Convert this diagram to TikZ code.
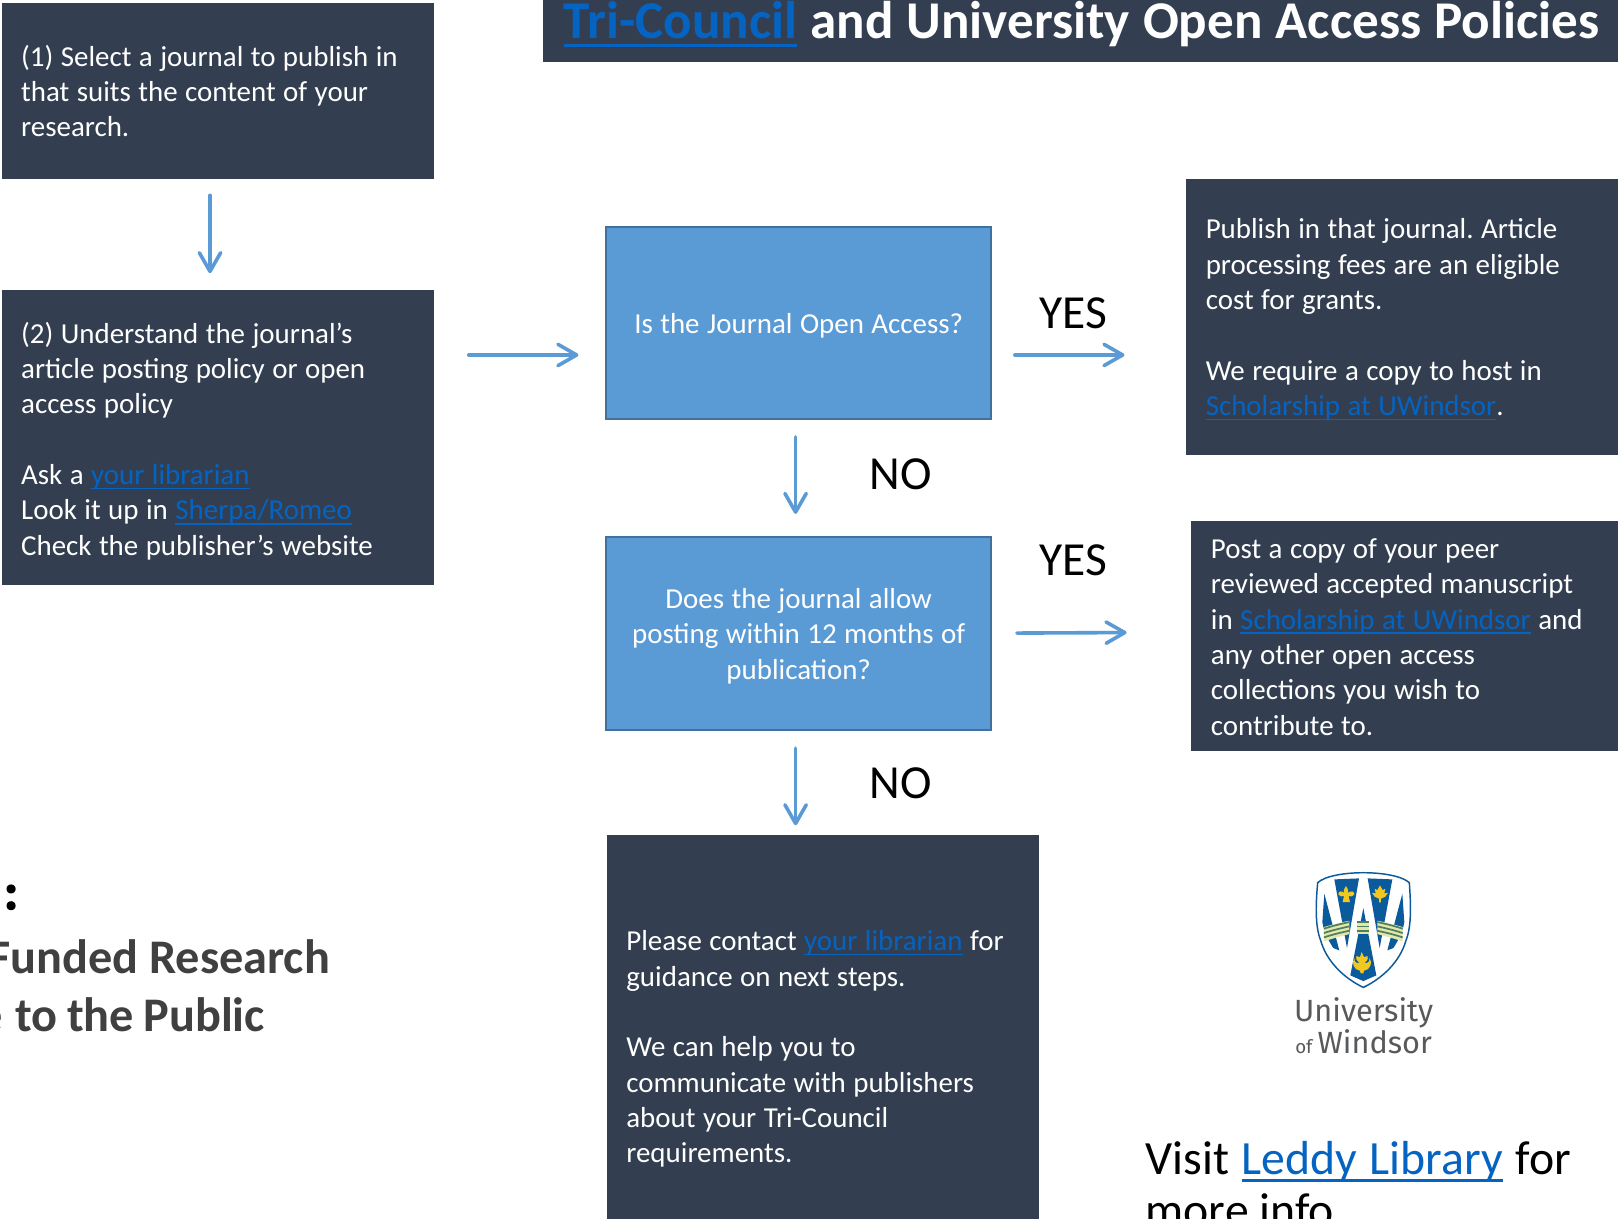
\documentclass[tikz,border=0pt]{standalone}
\usepackage{fontspec}
\setmainfont{Carlito}
\newfontfamily\logofont{Fira Sans}
\newfontfamily\colonfont[FakeBold=3]{Carlito Bold}
\usetikzlibrary{arrows.meta,calc}
\definecolor{panel}{HTML}{333F50}
\definecolor{accent}{HTML}{5B9BD5}
\definecolor{accentedge}{HTML}{41719C}
\definecolor{linkblue}{HTML}{0563C1}
\definecolor{headgray}{HTML}{404040}
\definecolor{crestblue}{HTML}{0B5A9C}
\definecolor{crestgold}{HTML}{F2C81E}
\definecolor{crestgreen}{HTML}{4F7F63}
\definecolor{crestpale}{HTML}{E3E8A8}
\definecolor{logogray}{HTML}{58595B}
\newcommand{\lnk}[2][1.1pt]{\leavevmode\textcolor{linkblue}{\setbox0=\hbox{#2}\rlap{\rule[-0.165em]{\wd0}{#1}}\box0}}
\newcommand{\tg}[1]{\rule{0pt}{#1}}
\newcommand{\bsp}{\spaceskip 5.6pt\relax}
\frenchspacing
\tikzset{
  x=0.7739pt,y=-0.7739pt,
  bodyfont/.style={font=\fontsize{21.7}{26.5}\selectfont},
  panelbox/.style={fill=panel,text=white,bodyfont,align=left,inner xsep=0pt,inner ysep=0pt,anchor=center},
  askbox/.style={fill=accent,draw=accentedge,line width=1.5pt,text=white,bodyfont,align=center,minimum width=373*0.7739pt,minimum height=187*0.7739pt,inner sep=0pt,text width=340*0.7739pt},
  flow/.style={draw=accent,line width=2.7pt,line cap=round,-{Straight Barb[length=14pt,width=16pt,line width=2.7pt,round]}},
  answer/.style={font=\fontsize{35.6}{40}\selectfont,text=black,inner sep=0pt},
  headtext/.style={font=\fontsize{36.2}{44}\selectfont\bfseries,text=headgray,inner sep=0pt},
}
\begin{document}
\begin{tikzpicture}
\clip (0,0) rectangle (1568,1181.3);
\fill[white] (0,0) rectangle (1568,1181.3);
% title
\node[fill=panel,text=white,anchor=north west,minimum width=1042*0.7739pt,minimum height=74*0.7739pt,inner sep=0pt,text width=1042*0.7739pt,align=left,font=\fontsize{39.8}{48}\selectfont\bfseries] (title) at (526,-14) {\spaceskip 9.8pt\relax\hspace*{15.5pt}\lnk[2.5pt]{Tri-Council} and University Open Access Policies};
% left boxes
\node[panelbox,minimum width=419*0.7739pt,minimum height=170*0.7739pt,text width=382*0.7739pt] (one) at (211.5,88) {\bsp\tg{16pt}(1) Select a journal to publish in\\that suits the content of your\\research.};
\node[panelbox,minimum width=419*0.7739pt,minimum height=286*0.7739pt,text width=382*0.7739pt] (two) at (211.5,424) {\bsp\tg{21pt}(2) Understand the journal’s\\article posting policy or open\\access policy\\[26.5pt]Ask a \lnk{your librarian}\\Look it up in \lnk{Sherpa/Romeo}\\Check the publisher’s website};
% questions
\node[askbox] (qone) at (774,313) {\bsp\tg{19.5pt}Is the Journal Open Access?};
\node[askbox] (qtwo) at (774,613.5) {\bsp\tg{19.5pt}Does the journal allow\\posting within 12 months of\\publication?};
% right boxes
\node[panelbox,minimum width=419*0.7739pt,minimum height=268*0.7739pt,text width=380*0.7739pt] (rone) at (1358.5,307) {\bsp\tg{19pt}Publish in that journal. Article\\processing fees are an eligible\\cost for grants.\\[26.5pt]We require a copy to host in\\\lnk{Scholarship at UWindsor}.};
\node[panelbox,minimum width=414*0.7739pt,minimum height=223*0.7739pt,text width=375*0.7739pt] (rtwo) at (1361,616.5) {\bsp\tg{16pt}Post a copy of your peer\\reviewed accepted manuscript\\in \lnk{Scholarship at UWindsor} and\\any other open access\\collections you wish to\\contribute to.};
% bottom box
\node[panelbox,minimum width=419*0.7739pt,minimum height=412*0.7739pt,text width=381*0.7739pt] (help) at (797.5,1015) {\bsp\tg{17.5pt}Please contact \lnk{your librarian} for\\guidance on next steps.\\[26.5pt]We can help you to\\communicate with publishers\\about your Tri-Council\\requirements.};
% answers
\node[answer] (yesone) at (1040,304) {YES};
\node[answer] (yestwo) at (1040,543) {YES};
\node[answer] (noone) at (873,460) {NO};
\node[answer] (notwo) at (873,759) {NO};
% connectors
\draw[flow] ([shift={(-8,16)}]one.south) -- ([shift={(-8,-16)}]two.north);
\draw[flow] ([shift={(33,-80)}]two.east) -- ([shift={(-26,31)}]qone.west);
\draw[flow] ([shift={(22,31)}]qone.east) -- ([shift={(-59,37)}]rone.west);
\draw[flow] ([shift={(-3,16)}]qone.south) -- ([shift={(-3,-21)}]qtwo.north);
\draw[flow] ([shift={(24,0)}]qtwo.east) -- ([shift={(-62,-3.5)}]rtwo.west);
\draw[flow] ([shift={(-3,17)}]qtwo.south) -- ([shift={(-26.5,-9)}]help.north);
% left heading fragments
\node[inner sep=0pt,anchor=base,text=black,font=\colonfont\fontsize{38}{44}\selectfont] (colon) at (10.7,881) {:};
\node[headtext,anchor=base east] (funded) at (320,943) {Funded Research};
\node[headtext,anchor=base east] (public) at (257,1000) {\spaceskip 7pt\relax e\hspace{10pt}to the Public};
% visit text
\node[anchor=base west,inner sep=0pt,align=left,font=\fontsize{35.8}{39.5}\selectfont,text=black] (visit) at (1110,1189) {\spaceskip 9.4pt\relax Visit \lnk[2.1pt]{Leddy Library} for\\more info};
% logo wordmark
\node[anchor=base,inner sep=0pt,align=center,text=logogray,font=\logofont\fontsize{23}{21.7}\selectfont] (wordmark) at (1321.5,1021) {\lineskiplimit-20pt\relax University\\{\fontsize{14}{21.7}\selectfont of}\,Windsor};
% crest
\begin{scope}[shift={(1259.8,835.4)},x=0.25pt,y=-0.25pt]
\path[fill=white,draw=crestblue,line width=1.1pt] (53,62) .. controls (95,22) and (285,22) .. (328,62) .. controls (332,120) and (336,190) .. (318,235) .. controls (300,300) and (245,350) .. (190,376) .. controls (135,350) and (80,300) .. (62,235) .. controls (44,190) and (48,120) .. (53,62) -- cycle;
\fill[crestblue] (73,95) -- (118,265) -- (100,258) .. controls (85,235) and (72,210) .. (67,180) -- cycle;
\fill[crestblue] (307,95) -- (262,265) -- (280,258) .. controls (295,235) and (308,210) .. (313,180) -- cycle;
\fill[crestblue] (103,52) -- (177,49) -- (141,258) -- cycle;
\fill[crestblue] (203,49) -- (277,52) -- (239,258) -- cycle;
\fill[crestblue] (190,138) -- (229,340) -- (190,357) -- (151,340) -- cycle;
\foreach \xa/\xb/\xc/\xd in {72/95/125/148,308/285/255/232}{
  \fill[crestpale] (\xa,195) .. controls (\xb,188) and (\xc,180) .. (\xd,176) -- (\xd,216) .. controls (\xc,222) and (\xb,230) .. (\xa,238) -- cycle;
  \foreach \yy in {0,13,26}{
    \draw[crestgreen,line width=1.3pt] (\xa,{200+\yy}) .. controls (\xb,{192+\yy}) and (\xc,{185+\yy}) .. (\xd,{180+\yy});
  }
}
\fill[crestpale] (172,176) rectangle (208,216);
\foreach \yy in {0,13,26}{
  \draw[crestgreen,line width=1.3pt] (172,{180+\yy}) -- (208,{180+\yy});
}
% fleur, maple, thistle
\fill[crestgold] (138,72) .. controls (146,84) and (146,90) .. (144,93) .. controls (152,84) and (164,88) .. (163,97) .. controls (160,104) and (152,104) .. (146,102) -- (150,120) -- (128,120) -- (132,102) .. controls (126,104) and (118,104) .. (115,97) .. controls (114,88) and (126,84) .. (132,93) .. controls (130,90) and (130,84) .. (138,72) -- cycle;
\fill[crestgold] (240,70) -- (248,84) -- (256,80) -- (253,94) -- (264,92) -- (256,104) -- (243,110) -- (242,122) -- (238,122) -- (237,110) -- (224,104) -- (216,92) -- (227,94) -- (224,80) -- (232,84) -- cycle;
\fill[crestgold] (185,270) -- (192,285) -- (203,282) .. controls (205,292) and (200,298) .. (194,302) .. controls (204,305) and (210,298) .. (208,288) .. controls (220,300) and (210,325) .. (192,326) -- (190,334) -- (182,334) -- (180,326) .. controls (162,325) and (152,300) .. (164,288) .. controls (162,298) and (168,305) .. (178,302) .. controls (172,298) and (167,292) .. (169,282) -- (180,285) -- cycle;
\end{scope}
\end{tikzpicture}
\end{document}
